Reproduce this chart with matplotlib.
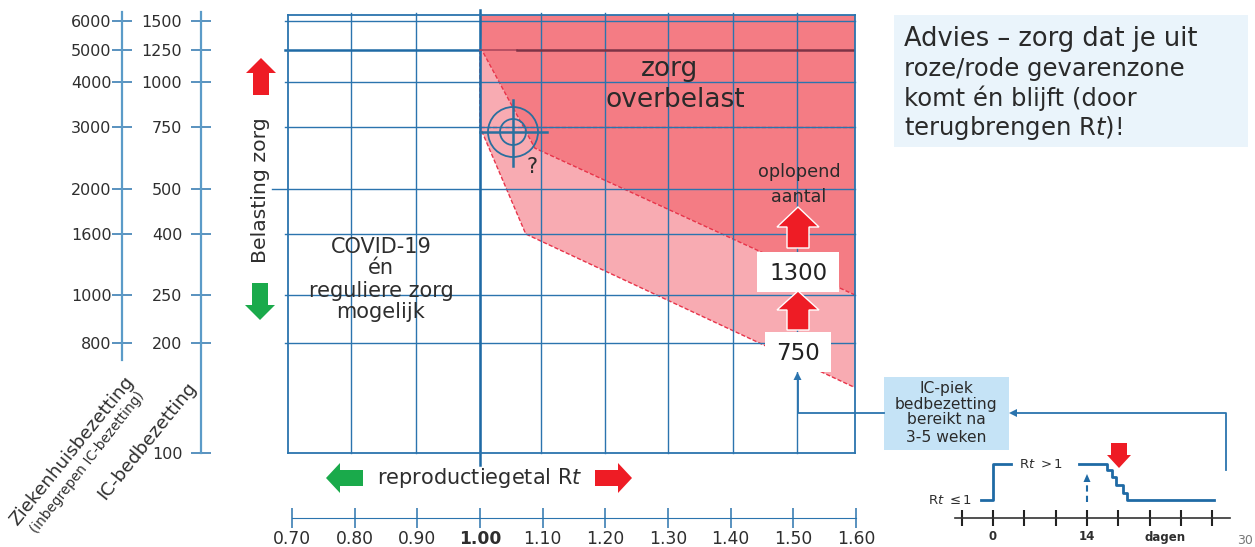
import numpy as np
import matplotlib
matplotlib.use("Agg")
import matplotlib.pyplot as plt
from matplotlib.patches import Polygon, Circle, Rectangle
from matplotlib.transforms import ScaledTranslation

# ---------- data ----------
ic_beds = [100, 200, 250, 400, 500, 750, 1000, 1250, 1500]
hospital = [800, 1000, 1600, 2000, 3000, 4000, 5000, 6000]
rt_ticks = [0.70, 0.80, 0.90, 1.00, 1.10, 1.20, 1.30, 1.40, 1.50, 1.60]
# zones (Rt, IC beds)
over_rt = [1.00, 1.60, 1.60, 1.09, 1.003]
over_ic = [1600, 1600, 250, 653, 1250]
rising_rt = [1.00, 1.00, 1.075, 1.60, 1.60, 1.09, 1.003]
rising_ic = [1250, 750, 400, 151, 250, 653, 1250]
# inset: Rt over days
day_x = [-1.8, 0, 0, 2.7]
day_y = [0, 0, 1, 1]
day2_x = [12.8, 17, 17, 17.7, 17.7, 18.4, 18.4, 19.3, 19.3, 20, 20, 33]
day2_y = [1, 1, .83, .83, .64, .64, .42, .42, .19, .19, 0, 0]
day_ticks = [i * 14 / 3 for i in range(-1, 8)]

W, H = 1255, 547
BLUE = "#2b74ae"
TXT = "#2e2e2e"
plt.rcParams["font.family"] = "DejaVu Sans"
plt.rcParams["mathtext.fontset"] = "dejavusans"
fig = plt.figure(figsize=(W / 100, H / 100), dpi=100)

def axpx(l, t, r, b, **kw):
    return fig.add_axes([l / W, 1 - b / H, (r - l) / W, (b - t) / H], **kw)

# y scale as printed on the chart (hand-drawn spacing)
anc_v = np.log([50, 100, 200, 250, 400, 500, 750, 1000, 1250, 1500, 1600, 3000])
anc_p = -np.array([563, 453, 343, 295, 234, 189, 127, 82, 50, 21, 15, -100.0])
def yf(v): return np.interp(np.log(np.maximum(v, 1e-3)), anc_v, anc_p)
def yi(p): return np.exp(np.interp(p, anc_p, anc_v))
def yf4(v): return yf(np.asarray(v) / 4)
def yi4(p): return yi(p) * 4
anc_r = [0.5, 0.7, 0.8, 0.9, 1.0, 1.1, 1.2, 1.3, 1.4, 1.5, 1.6, 1.8]
anc_x = [160, 288, 351, 416, 480, 541, 605, 668, 733, 797, 855, 980]
def xf(v): return np.interp(v, anc_r, anc_x)
def xi(p): return np.interp(p, anc_x, anc_r)

# ---------- main chart ----------
ax = axpx(288, 15, 855, 453)
ax.set_xscale("function", functions=(xf, xi))
ax.set_yscale("function", functions=(yf, yi))
ax.set_xlim(0.7, 1.6)
ax.set_ylim(100, 1600)
DASH = (0, (3, 1.5))
ax.add_patch(Polygon(np.c_[rising_rt, rising_ic], fc="#f8abb2", ec="none", zorder=1))
ax.add_patch(Polygon(np.c_[over_rt, over_ic], fc="#f47c84", ec="none", zorder=1.1))
ax.plot(rising_rt[:4], rising_ic[:4], color="#e8344a", lw=1, ls=DASH, zorder=1.5)
ax.plot(over_rt[2:], over_ic[2:], color="#e8344a", lw=1, ls=DASH, zorder=1.5)
ax.plot([1.0, 1.6, 1.6], [750, 750, 250], color="#e8344a", lw=1, ls=DASH, zorder=1.5)
for r in rt_ticks[1:-1]:
    ax.plot([r, r], [100, 1620], color=BLUE, lw=1, zorder=2, clip_on=False)
for v in ic_beds[1:]:
    if v == 1250:
        continue
    x0 = 0.675 if v == 500 else 0.696
    ax.plot([x0, 1.6], [v, v], color=BLUE, lw=1, zorder=2, clip_on=False)
ax.plot([1.0, 1.0], [93, 1640], color="#1f6aa5", lw=1.8, zorder=2.2, clip_on=False)
ax.plot([0.695, 1.0], [1250, 1250], color="#1f6aa5", lw=1.8, zorder=2.2, clip_on=False)
ax.plot([1.0, 1.06], [1250, 1250], color="#a8445a", lw=1.1, zorder=2.2)
ax.plot([1.06, 1.6], [1250, 1250], color="#7d3346", lw=1.8, zorder=2.2)
ax.set_xticks([]); ax.set_yticks([])
ax.minorticks_off()
ax.tick_params(which="both", left=False, bottom=False, labelleft=False, labelbottom=False)
for s in ax.spines.values():
    s.set_color(BLUE); s.set_linewidth(1.3)

# ---------- left scales ----------
def vscale(x, ticks, tf, ti, lo, hi, bounds, pad):
    a = axpx(x, 15, x + 1, 453)
    a.set_yscale("function", functions=(tf, ti))
    a.set_ylim(lo, hi)
    a.set_xticks([])
    a.set_yticks(ticks)
    a.set_yticklabels([str(t) for t in ticks], fontsize=11.5, color=TXT)
    a.minorticks_off()
    a.tick_params(axis="y", which="minor", left=False)
    a.tick_params(axis="y", which="major", direction="inout", length=15, width=1.1, color=BLUE, pad=pad)
    for k in ("top", "right", "bottom"):
        a.spines[k].set_visible(False)
    a.spines["left"].set_color("#5b9bc8"); a.spines["left"].set_linewidth(1.6)
    a.spines["left"].set_bounds(*bounds)
    a.patch.set_visible(False)
    return a
vscale(201, ic_beds, yf, yi, 100, 1600, (100, 1625), 6)
vscale(122, hospital, yf4, yi4, 400, 6400, (720, 6500), 0)

# ---------- bottom scale ----------
bx = axpx(292, 517, 856, 518)
bx.set_xlim(0.7, 1.6)
bx.set_yticks([])
bx.set_xticks(rt_ticks)
bx.set_xticklabels([f"{r:.2f}" for r in rt_ticks], fontsize=12.3, color=TXT)
shift = ScaledTranslation(3 / 100, 0, fig.dpi_scale_trans)
for lab in bx.get_xticklabels():
    lab.set_transform(lab.get_transform() + shift)
bx.get_xticklabels()[3].set_fontweight("bold")
bx.tick_params(axis="x", direction="inout", length=15, width=1.1, color=BLUE, pad=1)
for k in ("top", "left", "right"):
    bx.spines[k].set_visible(False)
bx.spines["bottom"].set_color(BLUE)
bx.patch.set_visible(False)

# ---------- inset ----------
ins = axpx(955, 460, 1230, 518)
ins.set_xlim((955 - 993) / 6.71, (1230 - 993) / 6.71)
ins.set_ylim(-0.5, 1.11)
ins.plot(day_x, day_y, color="#1f6aa5", lw=2)
ins.plot(day2_x, day2_y, color="#1f6aa5", lw=2)
ins.set_yticks([])
ins.set_xticks(day_ticks)
ins.set_xticklabels(["", "0", "", "", "14", "", "", "", ""], fontsize=8.5, fontweight="bold", color=TXT)
ins.tick_params(axis="x", direction="inout", length=12, width=1.5, color="#222222", pad=3)
for k in ("top", "left", "right"):
    ins.spines[k].set_visible(False)
ins.spines["bottom"].set_color("#333333"); ins.spines["bottom"].set_linewidth(1.2)
ins.patch.set_visible(False)

# ---------- overlay in pixels ----------
ov = fig.add_axes([0, 0, 1, 1], zorder=10)
ov.set_xlim(0, W); ov.set_ylim(H, 0); ov.axis("off")

def T(x, y, s, size, **kw):
    kw.setdefault("color", TXT); kw.setdefault("ha", "center"); kw.setdefault("va", "center")
    return ov.text(x, y, s, fontsize=size, **kw)

def vert_arrow(cx, tip, base, tail, hw, sw, color, ec="none"):
    ov.add_patch(Polygon([(cx, tip), (cx + hw, base), (cx + sw, base), (cx + sw, tail),
                          (cx - sw, tail), (cx - sw, base), (cx - hw, base)], fc=color, ec=ec, lw=1))

def horiz_arrow(tip, base, tail, cy, hw, sw, color):
    ov.add_patch(Polygon([(tip, cy), (base, cy + hw), (base, cy + sw), (tail, cy + sw),
                          (tail, cy - sw), (base, cy - sw), (base, cy - hw)], fc=color, ec="none"))

RED, GREEN = "#ee1c25", "#1aaa4b"
vert_arrow(261, 58, 73, 95, 15, 8, RED)
vert_arrow(260, 320, 305, 283, 15, 8, GREEN)
T(261, 190, "Belasting zorg", 14.7, rotation=90)
horiz_arrow(326, 340, 363, 478, 15, 8, GREEN)
horiz_arrow(632, 618, 595, 478, 15, 8, RED)
T(480, 478, "reproductiegetal R$\\mathit{t}$", 15)

T(72, 451, "Ziekenhuisbezetting", 13.2, rotation=51, rotation_mode="anchor")
T(88, 462, "(inbegrepen IC-bezetting)", 9.8, rotation=52, rotation_mode="anchor")
T(147, 441, "IC-bedbezetting", 13.2, rotation=51, rotation_mode="anchor")

T(670, 69, "zorg", 19, color="#2a2a2a")
T(675, 100, "overbelast", 19, color="#2a2a2a")
T(799, 172, "oplopend", 12.7, color="#2a2a2a")
T(799, 197, "aantal", 12.7, color="#2a2a2a")
for y, s in zip([247, 268, 291, 312], ["COVID-19", "én", "reguliere zorg", "mogelijk"]):
    T(381, y, s, 15)

# target
c = "#2a6f9e"
ov.add_patch(Circle((513, 132), 25, fc="none", ec=c, lw=1.3))
ov.add_patch(Circle((513, 132), 13, fc="none", ec=c, lw=1.3))
ov.plot([480, 547], [132, 132], color=c, lw=1.8)
ov.plot([513, 513], [100, 166], color=c, lw=1.8)
T(532, 167, "?", 15)

# value boxes and arrows
ov.add_patch(Rectangle((757, 252), 82, 40, fc="white", ec="none"))
ov.add_patch(Rectangle((765, 332), 66, 40, fc="white", ec="none"))
vert_arrow(798, 207, 227, 248, 21, 11, RED, ec="white")
vert_arrow(798, 291, 310, 330, 21, 11, RED, ec="white")
T(798, 273, "1300", 16.5, color="#222222")
T(798, 353, "750", 16.5, color="#222222")

# advice box
ov.add_patch(Rectangle((894, 15), 354, 132, fc="#eaf4fb", ec="none"))
T(904, 39, "Advies – zorg dat je uit", 18.5, ha="left", color="#2a2a2a")
for y, s in zip([69, 98, 128], ["roze/rode gevarenzone", "komt én blijft (door",
                                "terugbrengen R$\\mathit{t}$)!"]):
    T(904, y, s, 17.5, ha="left", color="#2a2a2a")

# IC peak box and connectors
ov.add_patch(Rectangle((884, 377), 125, 73, fc="#c5e3f6", ec="none"))
for y, s in zip([389, 405, 420, 437], ["IC-piek", "bedbezetting", "bereikt na", "3-5 weken"]):
    T(946, y, s, 11.2, color="#2a2a2a")
ov.plot([1226, 1226, 1016], [470, 413, 413], color=BLUE, lw=1.3)
ov.add_patch(Polygon([(1009, 413), (1017, 409), (1017, 417)], fc=BLUE, ec="none"))
ov.plot([884, 797.5, 797.5], [413, 413, 378], color=BLUE, lw=1.3)
ov.add_patch(Polygon([(797.5, 372), (793.5, 380), (801.5, 380)], fc=BLUE, ec="none"))

# inset annotation
T(950, 501, "R$\\mathit{t}$ $\\mathit{\\leq 1}$", 9.5)
T(1041, 464, "R$\\mathit{t\\ >1}$", 9.5)
T(1165, 537, "dagen", 8.5, fontweight="bold")
T(1245, 541, "30", 9, color="#777777", clip_on=False)
ov.plot([1087, 1087], [502, 482], color="#1f6aa5", lw=1.5, ls=(0, (3, 2)))
ov.add_patch(Polygon([(1087, 474), (1083.5, 482), (1090.5, 482)], fc="#1f6aa5", ec="none"))
vert_arrow(1119, 468, 455, 443, 12, 8, RED)

fig.savefig("out.png", dpi=100)
